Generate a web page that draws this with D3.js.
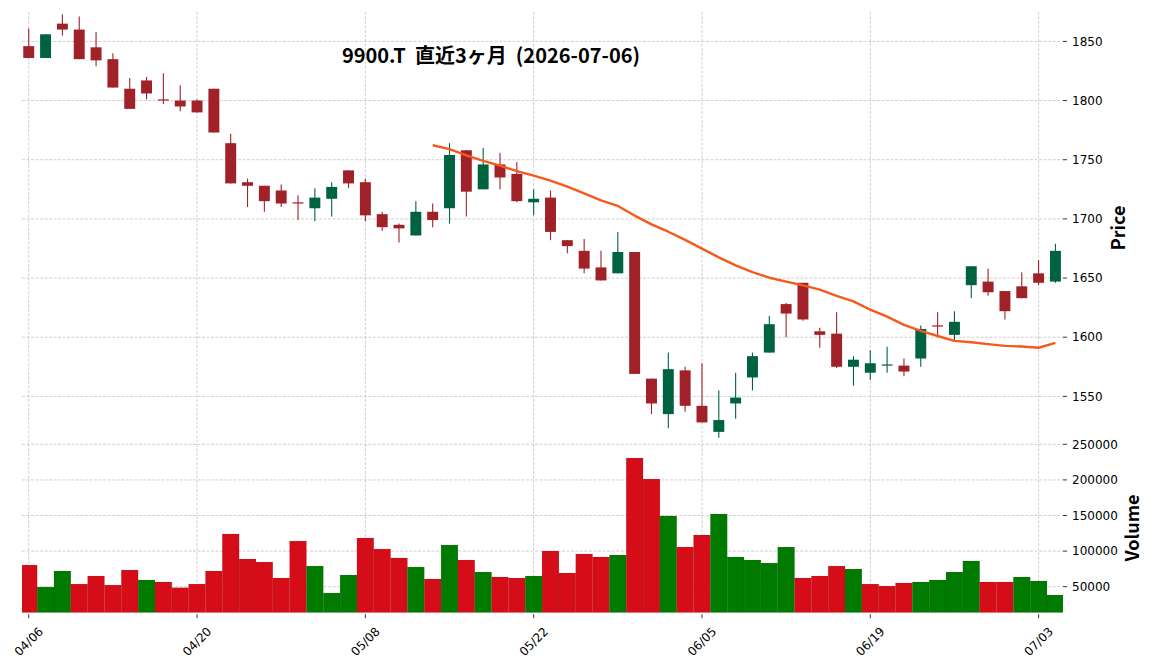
<!DOCTYPE html>
<html>
<head>
<meta charset="utf-8">
<script src="https://cdn.jsdelivr.net/npm/d3@7/dist/d3.min.js"></script>
<style>
  body { margin: 0; background: #fff; }
  .tick-label { font-family: "DejaVu Sans", sans-serif; font-size: 12px; fill: #000; }
  .axis-title { font-family: "Noto Sans CJK JP", sans-serif; font-size: 18px; font-weight: bold; fill: #000; }
  .title { font-family: "Noto Sans CJK JP", sans-serif; font-size: 20px; font-weight: bold; fill: #000; white-space: pre; }
  .grid { stroke: #c4c4c4; stroke-width: 0.8; stroke-dasharray: 3,1.5; }
</style>
</head>
<body>
<svg id="chart" width="1152" height="670"></svg>
<script>
// 9900.T daily bars, last 3 months
const dates = ['04/06','04/07','04/08','04/09','04/10','04/13','04/14','04/15','04/16','04/17',
  '04/20','04/21','04/22','04/23','04/24','04/27','04/28','04/30','05/01','05/07',
  '05/08','05/11','05/12','05/13','05/14','05/15','05/18','05/19','05/20','05/21',
  '05/22','05/25','05/26','05/27','05/28','05/29','06/01','06/02','06/03','06/04',
  '06/05','06/08','06/09','06/10','06/11','06/12','06/15','06/16','06/17','06/18',
  '06/19','06/22','06/23','06/24','06/25','06/26','06/29','06/30','07/01','07/02',
  '07/03','07/06'];
const opens = [1846,1836,1865,1860,1845,1835,1810,1817,1801,1800,1800,1810,1764,1731,1728,1724,1714,1709,1717,1741,
  1731,1704,1695,1686,1706,1709,1758,1725,1746,1738,1714,1718,1682,1673,1659,1654,1672,1565,1535,1572,
  1542,1520,1544,1566,1587,1628,1646,1605,1603,1575,1570,1576,1576,1582,1610,1602,1644,1647,1639,1643,
  1654,1647];
const highs = [1861,1856,1873,1871,1858,1840,1819,1820,1823,1813,1801,1810,1772,1734,1728,1729,1720,1726,1731,1741,
  1734,1706,1696,1715,1713,1764,1758,1760,1756,1748,1725,1724,1682,1683,1673,1689,1672,1565,1587,1575,
  1578,1555,1570,1587,1618,1629,1646,1608,1621,1584,1589,1592,1582,1610,1621,1622,1660,1658,1639,1655,
  1665,1679];
const lows = [1836,1836,1855,1835,1829,1811,1793,1801,1797,1791,1790,1773,1730,1710,1706,1710,1699,1698,1702,1726,
  1698,1690,1680,1686,1693,1696,1702,1725,1725,1714,1703,1682,1671,1654,1648,1654,1569,1535,1523,1537,
  1528,1515,1531,1555,1587,1600,1614,1591,1574,1559,1564,1570,1567,1575,1600,1597,1633,1635,1615,1633,
  1644,1646];
const closes = [1836,1856,1860,1835,1834,1811,1793,1806,1800,1795,1790,1773,1730,1728,1715,1713,1713,1718,1727,1730,
  1703,1693,1692,1706,1699,1754,1723,1746,1735,1715,1717,1689,1677,1658,1648,1672,1569,1544,1573,1542,
  1528,1530,1549,1584,1611,1620,1615,1602,1575,1581,1578,1577,1571,1607,1609,1613,1660,1638,1622,1633,
  1646,1673];
const volumes = [80400,49500,72000,53700,65000,52300,73400,59400,56600,48600,53700,72000,124000,88900,84600,62200,114100,79000,41100,66400,
  118400,102900,90300,77600,60800,108500,87500,70600,63600,62200,65000,100100,69200,95900,91700,94500,230700,201200,149300,105700,
  122600,152100,91700,87500,83200,105700,62200,65000,79000,74800,53700,50900,55200,56600,59400,70600,86100,56600,56600,63600,
  58000,38300];
const maWindow = 25;
const priceTicks = [1550, 1600, 1650, 1700, 1750, 1800, 1850];
const volumeTicks = [50000, 100000, 150000, 200000, 250000];
const dateTickEvery = 10;
const title = '9900.T  直近3ヶ月  (2026-07-06)';

const colors = {
  candleUp: '#006340', candleDown: '#a02128',
  volUp: '#007a00', volDown: '#d50d18',
  ma: '#f55a1a'
};

const svg = d3.select('#chart');
const plot = {left: 22, right: 1063, top: 12, mid: 444.3, bottom: 612.7};

const x = d3.scaleLinear().domain([-0.4, dates.length - 0.55]).range([plot.left, plot.right]);
const step = x(1) - x(0);
const yPrice = d3.scaleLinear().domain([1509.5, 1874.85]).range([plot.mid, plot.top]);
const yVol = d3.scaleLinear().domain([13480, 250000]).range([plot.bottom, plot.mid]);

const idx = d3.range(dates.length);
const tickIdx = idx.filter(i => i % dateTickEvery === 0);

// grids
const grid = svg.append('g');
grid.selectAll('.vgrid').data(tickIdx).join('line')
    .attr('class', 'grid')
    .attr('x1', d => x(d)).attr('x2', d => x(d))
    .attr('y1', plot.top).attr('y2', plot.bottom);
grid.selectAll('.pgrid').data(priceTicks).join('line')
    .attr('class', 'grid')
    .attr('x1', plot.left).attr('x2', plot.right)
    .attr('y1', d => yPrice(d)).attr('y2', d => yPrice(d));
grid.selectAll('.vgridv').data(volumeTicks).join('line')
    .attr('class', 'grid')
    .attr('x1', plot.left).attr('x2', plot.right)
    .attr('y1', d => yVol(d)).attr('y2', d => yVol(d));

// volume bars, coloured by close vs previous close
svg.append('clipPath').attr('id', 'volClip').append('rect')
    .attr('x', plot.left).attr('y', plot.mid)
    .attr('width', plot.right - plot.left).attr('height', plot.bottom - plot.mid);
const volUp = idx.map(i => i === 0 ? opens[0] < closes[0] : closes[i - 1] < closes[i]);
svg.append('g').attr('clip-path', 'url(#volClip)')
  .selectAll('rect').data(idx).join('rect')
    .attr('x', i => x(i) - step / 2)
    .attr('width', step)
    .attr('y', i => yVol(volumes[i]))
    .attr('height', i => plot.bottom - yVol(volumes[i]))
    .attr('fill', i => volUp[i] ? colors.volUp : colors.volDown)
    .attr('stroke', 'rgba(0,0,0,0.12)')
    .attr('stroke-width', 0.6);

// candles
const candles = svg.append('g');
const candleColor = i => opens[i] < closes[i] ? colors.candleUp : colors.candleDown;
const bodyW = step * 0.65;
candles.selectAll('line').data(idx).join('line')
    .attr('x1', i => x(i)).attr('x2', i => x(i))
    .attr('y1', i => yPrice(highs[i])).attr('y2', i => yPrice(lows[i]))
    .attr('stroke', candleColor)
    .attr('stroke-width', 1.1);
candles.selectAll('rect').data(idx).join('rect')
    .attr('x', i => x(i) - bodyW / 2)
    .attr('width', bodyW)
    .attr('y', i => yPrice(Math.max(opens[i], closes[i])))
    .attr('height', i => Math.max(1.2, Math.abs(yPrice(opens[i]) - yPrice(closes[i]))))
    .attr('fill', candleColor);

// 25-day moving average of the closes (as in the original mav=25)
const ma = idx.filter(i => i >= maWindow - 1)
    .map(i => [i, d3.mean(closes.slice(i - maWindow + 1, i + 1))]);
svg.append('path')
    .datum(ma)
    .attr('fill', 'none')
    .attr('stroke', colors.ma)
    .attr('stroke-width', 2.4)
    .attr('stroke-linejoin', 'round')
    .attr('d', d3.line().x(d => x(d[0])).y(d => yPrice(d[1])));

// right axes
const priceAxis = svg.append('g').attr('transform', 'translate(' + plot.right + ',0)');
priceAxis.selectAll('line').data(priceTicks).join('line')
    .attr('x1', 0).attr('x2', 4)
    .attr('y1', d => yPrice(d)).attr('y2', d => yPrice(d))
    .attr('stroke', '#000').attr('stroke-width', 0.8);
priceAxis.selectAll('text').data(priceTicks).join('text')
    .attr('class', 'tick-label')
    .attr('x', 9).attr('y', d => yPrice(d))
    .attr('dy', '0.35em')
    .text(d => d);

const volAxis = svg.append('g').attr('transform', 'translate(' + plot.right + ',0)');
volAxis.selectAll('line').data(volumeTicks).join('line')
    .attr('x1', 0).attr('x2', 4)
    .attr('y1', d => yVol(d)).attr('y2', d => yVol(d))
    .attr('stroke', '#000').attr('stroke-width', 0.8);
volAxis.selectAll('text').data(volumeTicks).join('text')
    .attr('class', 'tick-label')
    .attr('x', 9).attr('y', d => yVol(d))
    .attr('dy', '0.35em')
    .text(d => d);

// date axis
const dateAxis = svg.append('g');
dateAxis.selectAll('line').data(tickIdx).join('line')
    .attr('x1', d => x(d)).attr('x2', d => x(d))
    .attr('y1', plot.bottom + 1.5).attr('y2', plot.bottom + 5.5)
    .attr('stroke', '#000').attr('stroke-width', 0.8);
dateAxis.selectAll('text').data(tickIdx).join('text')
    .attr('class', 'tick-label')
    .attr('transform', d => 'translate(' + x(d) + ',641.5) rotate(-45)')
    .attr('text-anchor', 'middle')
    .attr('dy', '0.35em')
    .text(d => dates[d]);

// titles
svg.append('text')
    .attr('class', 'title')
    .attr('x', 491).attr('y', 62.5)
    .attr('text-anchor', 'middle')
    .text(title);
svg.append('text')
    .attr('class', 'axis-title')
    .attr('transform', 'translate(1124.5,228) rotate(-90)')
    .attr('text-anchor', 'middle')
    .text('Price');
svg.append('text')
    .attr('class', 'axis-title')
    .attr('transform', 'translate(1138.5,528) rotate(-90)')
    .attr('text-anchor', 'middle')
    .text('Volume');
</script>
</body>
</html>
